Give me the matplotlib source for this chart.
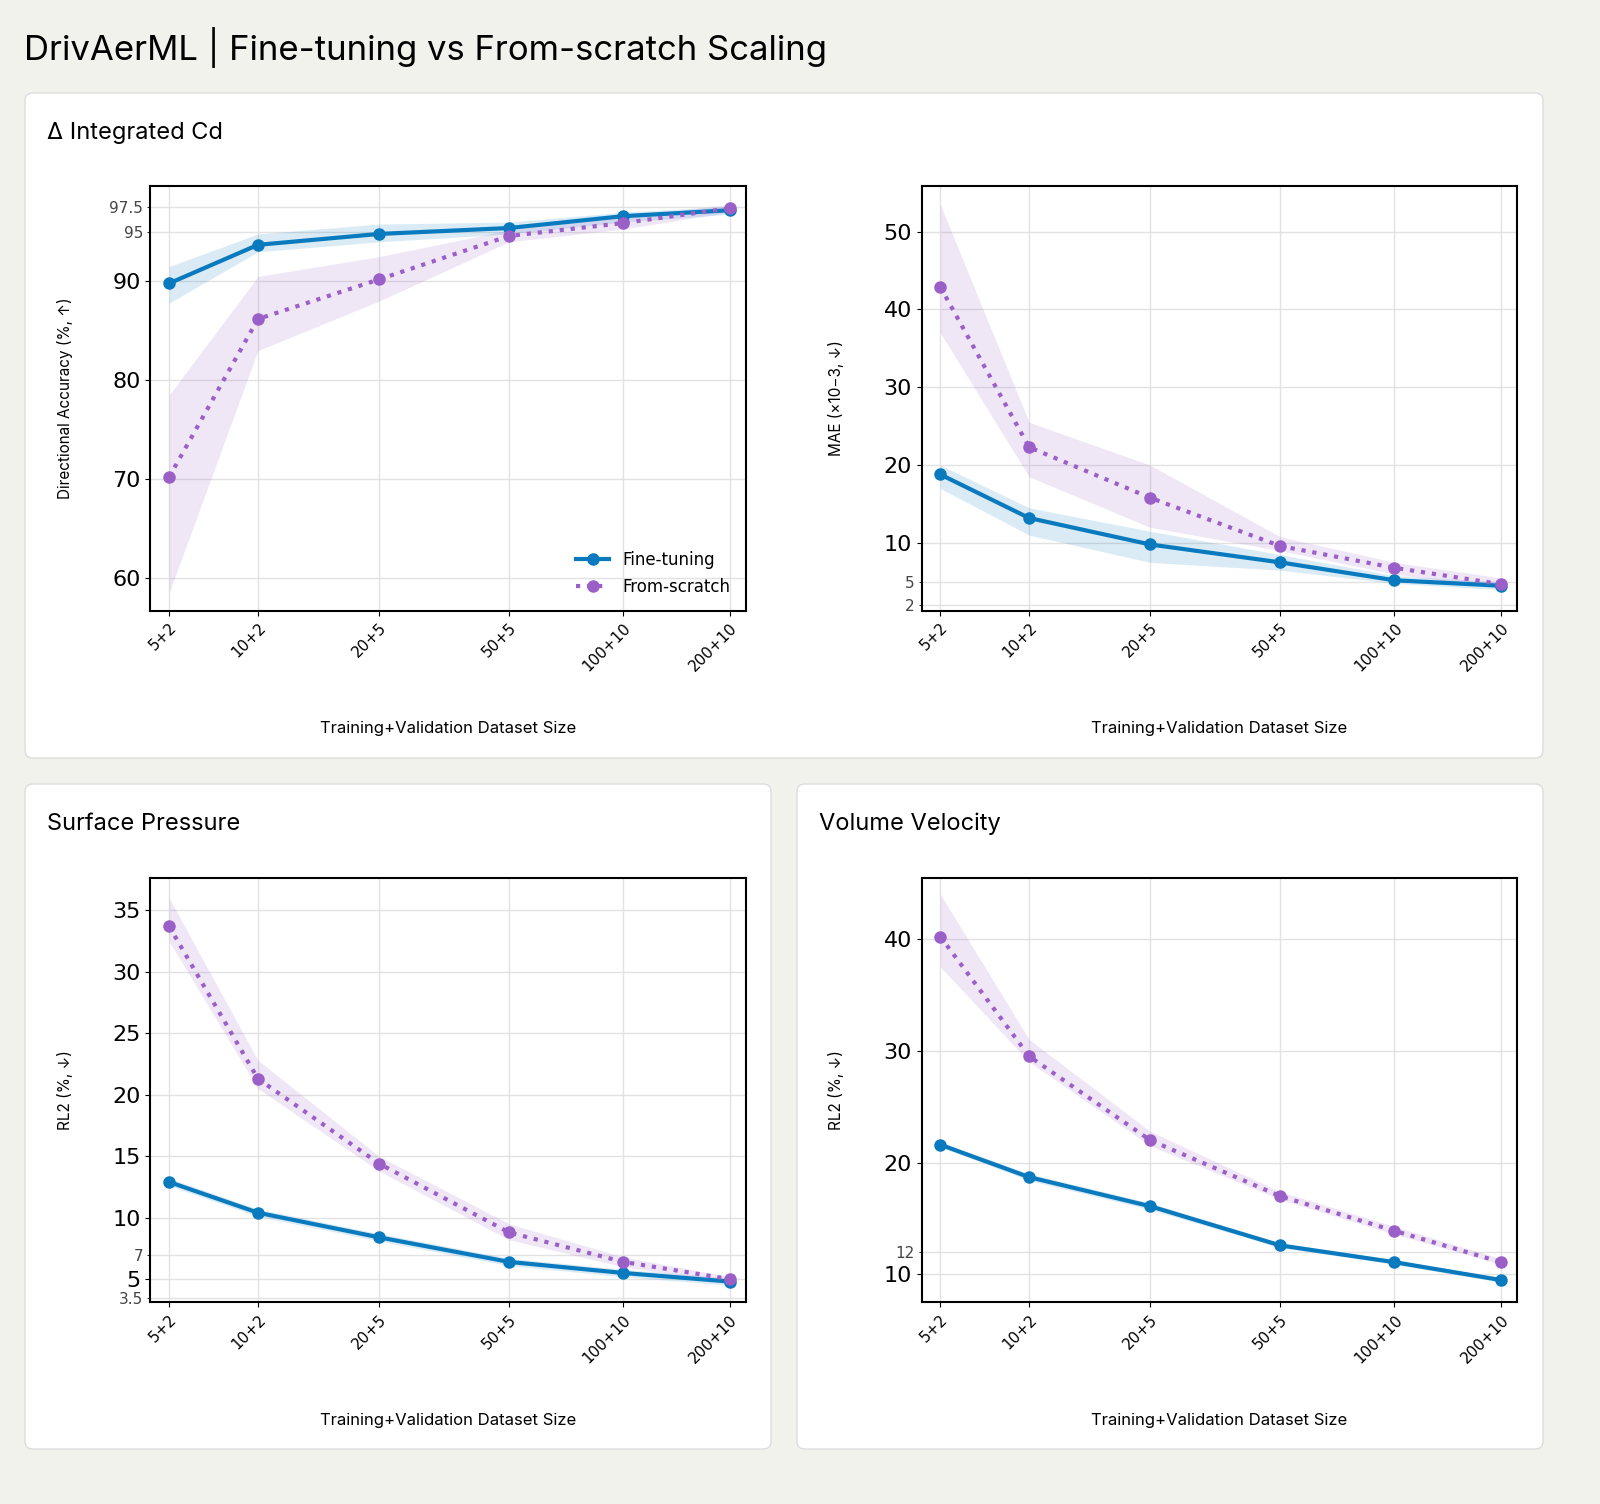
import matplotlib.pyplot as plt
import numpy as np
from matplotlib.patches import FancyBboxPatch

sizes = ["5+2", "10+2", "20+5", "50+5", "100+10", "200+10"]
totals = [7, 12, 25, 55, 110, 210]

# Directional accuracy (%)
da_ft = [89.8, 93.7, 94.8, 95.4, 96.6, 97.2]
da_ft_lo = [87.8, 93.0, 94.0, 94.8, 96.0, 96.8]
da_ft_hi = [91.5, 94.8, 95.8, 96.0, 97.0, 97.6]
da_fs = [70.2, 86.2, 90.2, 94.6, 95.9, 97.4]
da_fs_lo = [58.5, 83.0, 88.0, 94.0, 95.3, 97.0]
da_fs_hi = [78.5, 90.5, 92.5, 95.2, 96.5, 97.8]

# MAE (x1e-3)
mae_ft = [18.8, 13.2, 9.8, 7.5, 5.2, 4.5]
mae_ft_lo = [17.0, 11.0, 7.5, 6.5, 4.8, 4.0]
mae_ft_hi = [20.0, 14.5, 11.5, 8.5, 5.8, 5.0]
mae_fs = [42.9, 22.3, 15.8, 9.6, 6.8, 4.7]
mae_fs_lo = [37.0, 18.5, 12.0, 9.0, 6.0, 4.2]
mae_fs_hi = [53.5, 25.5, 20.0, 10.8, 7.5, 5.5]

# Surface pressure RL2 (%)
sp_ft = [12.9, 10.4, 8.4, 6.4, 5.5, 4.8]
sp_ft_lo = [12.6, 10.1, 8.1, 6.1, 5.2, 4.5]
sp_ft_hi = [13.2, 10.7, 8.7, 6.7, 5.8, 5.1]
sp_fs = [33.7, 21.3, 14.4, 8.8, 6.4, 5.0]
sp_fs_lo = [32.5, 20.5, 13.8, 8.2, 6.0, 4.7]
sp_fs_hi = [36.0, 22.8, 15.0, 9.5, 6.8, 5.2]

# Volume velocity RL2 (%)
vv_ft = [21.6, 18.7, 16.1, 12.6, 11.1, 9.5]
vv_ft_lo = [21.4, 18.4, 15.8, 12.4, 10.9, 9.3]
vv_ft_hi = [21.8, 19.0, 16.4, 12.8, 11.3, 9.7]
vv_fs = [40.2, 29.5, 22.0, 17.0, 13.9, 11.1]
vv_fs_lo = [37.5, 29.0, 21.5, 16.7, 13.6, 10.9]
vv_fs_hi = [44.0, 31.0, 22.8, 17.4, 14.3, 11.4]

C_FT = "#0a7abf"
C_FS = "#9b5fc8"
BG = "#f2f2ec"

fig = plt.figure(figsize=(16, 15.04), dpi=100, facecolor=BG)

# white panels
for x0, y0, x1, y1 in [(25, 93, 1543, 758), (25, 784, 771, 1449), (797, 784, 1543, 1449)]:
    fig.patches.append(FancyBboxPatch((x0 / 1600, 1 - y1 / 1504), (x1 - x0) / 1600, (y1 - y0) / 1504,
                                      boxstyle="round,pad=0,rounding_size=0.005", transform=fig.transFigure,
                                      facecolor="white", edgecolor="#dddddd", lw=1, zorder=-5))

fig.text(24 / 1600, 1 - 48 / 1504, "DrivAerML | Fine-tuning vs From-scratch Scaling", fontsize=25,
         family="Inter", va="center")
fig.text(47 / 1600, 1 - 133 / 1504, "Δ Integrated Cd", fontsize=17, family="Inter", va="center")
fig.text(47 / 1600, 1 - 824 / 1504, "Surface Pressure", fontsize=17, family="Inter", va="center")
fig.text(819 / 1600, 1 - 824 / 1504, "Volume Velocity", fontsize=17, family="Inter", va="center")


def panel(rect, ft, ftlo, fthi, fs, fslo, fshi, ylim, major, minor, ylabel, legend=False):
    ax = fig.add_axes(rect)
    ax.set_facecolor("white")
    ax.fill_between(totals, ftlo, fthi, color=C_FT, alpha=0.15, lw=0)
    ax.fill_between(totals, fslo, fshi, color=C_FS, alpha=0.15, lw=0)
    ax.plot(totals, ft, color=C_FT, lw=3, marker="o", ms=8, label="Fine-tuning", zorder=3)
    ax.plot(totals, fs, color=C_FS, lw=3, ls=":", marker="o", ms=8, label="From-scratch", zorder=3)
    ax.set_xscale("log")
    ax.minorticks_off()
    ax.set_xticks(totals)
    ax.set_xticklabels(sizes, rotation=45, ha="right", rotation_mode="anchor", fontsize=11)
    ax.set_xlim(totals[0] / 1.12, totals[-1] * 1.1)
    ax.set_ylim(*ylim)
    ax.set_yticks(major)
    ax.set_yticklabels([f"{v:g}" for v in major], fontsize=16)
    ax.set_yticks(minor, minor=True)
    ax.set_yticklabels([f"{v:g}" for v in minor], minor=True, fontsize=11, color="#444444")
    ax.grid(True, which="both", color="#e2e2e2", lw=1)
    ax.set_axisbelow(True)
    for s in ax.spines.values():
        s.set_linewidth(1.5)
    ax.set_xlabel("Training+Validation Dataset Size", fontsize=12, family="Inter", labelpad=34)
    ax.set_ylabel(ylabel, fontsize=11, family="Inter")
    ax.yaxis.set_label_coords(-0.13, 0.5)
    if legend:
        ax.legend(loc="lower right", frameon=False, fontsize=12)
    return ax


panel([0.094, 0.594, 0.372, 0.282], da_ft, da_ft_lo, da_ft_hi, da_fs, da_fs_lo, da_fs_hi,
      (56.7, 99.6), [60, 70, 80, 90], [95, 97.5], "Directional Accuracy (%, ↑)", legend=True)
panel([0.576, 0.594, 0.372, 0.282], mae_ft, mae_ft_lo, mae_ft_hi, mae_fs, mae_fs_lo, mae_fs_hi,
      (1.3, 55.8), [10, 20, 30, 40, 50], [2, 5], "MAE (×10−3, ↓)")
panel([0.094, 0.134, 0.372, 0.282], sp_ft, sp_ft_lo, sp_ft_hi, sp_fs, sp_fs_lo, sp_fs_hi,
      (3.1, 37.6), [5, 10, 15, 20, 25, 30, 35], [3.5, 7], "RL2 (%, ↓)")
panel([0.576, 0.134, 0.372, 0.282], vv_ft, vv_ft_lo, vv_ft_hi, vv_fs, vv_fs_lo, vv_fs_hi,
      (7.5, 45.4), [10, 20, 30, 40], [12], "RL2 (%, ↓)")

fig.savefig("out.png", dpi=100, facecolor=BG)
